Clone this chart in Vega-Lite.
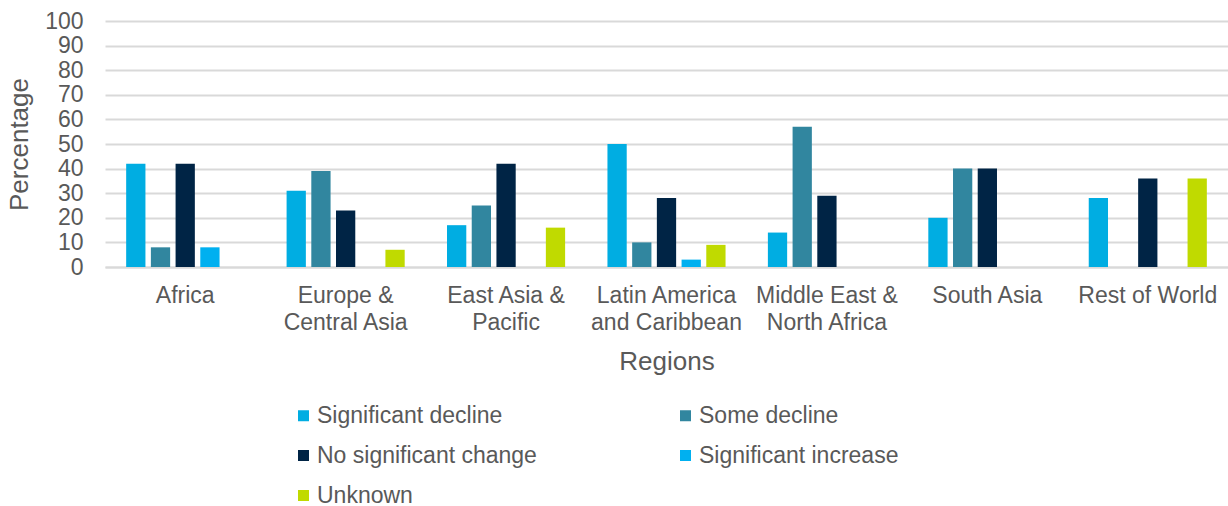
{
  "$schema": "https://vega.github.io/schema/vega-lite/v6.json",
  "width": 1123,
  "height": 246,
  "autosize": {"type": "none"},
  "padding": {"left": 105, "top": 21, "right": 0, "bottom": 239},
  "background": "white",
  "config": {
    "font": "Liberation Sans",
    "view": {"stroke": null},
    "axis": {"labelColor": "#595959", "titleColor": "#595959", "titleFontWeight": "normal"}
  },
  "data": {
    "values": [
      {"region": "Africa", "series": "Significant decline", "value": 42},
      {"region": "Africa", "series": "Some decline", "value": 8},
      {"region": "Africa", "series": "No significant change", "value": 42},
      {"region": "Africa", "series": "Significant increase", "value": 8},
      {"region": "Europe & Central Asia", "series": "Significant decline", "value": 31},
      {"region": "Europe & Central Asia", "series": "Some decline", "value": 39},
      {"region": "Europe & Central Asia", "series": "No significant change", "value": 23},
      {"region": "Europe & Central Asia", "series": "Unknown", "value": 7},
      {"region": "East Asia & Pacific", "series": "Significant decline", "value": 17},
      {"region": "East Asia & Pacific", "series": "Some decline", "value": 25},
      {"region": "East Asia & Pacific", "series": "No significant change", "value": 42},
      {"region": "East Asia & Pacific", "series": "Unknown", "value": 16},
      {"region": "Latin America and Caribbean", "series": "Significant decline", "value": 50},
      {"region": "Latin America and Caribbean", "series": "Some decline", "value": 10},
      {"region": "Latin America and Caribbean", "series": "No significant change", "value": 28},
      {"region": "Latin America and Caribbean", "series": "Significant increase", "value": 3},
      {"region": "Latin America and Caribbean", "series": "Unknown", "value": 9},
      {"region": "Middle East & North Africa", "series": "Significant decline", "value": 14},
      {"region": "Middle East & North Africa", "series": "Some decline", "value": 57},
      {"region": "Middle East & North Africa", "series": "No significant change", "value": 29},
      {"region": "South Asia", "series": "Significant decline", "value": 20},
      {"region": "South Asia", "series": "Some decline", "value": 40},
      {"region": "South Asia", "series": "No significant change", "value": 40},
      {"region": "Rest of World", "series": "Significant decline", "value": 28},
      {"region": "Rest of World", "series": "No significant change", "value": 36},
      {"region": "Rest of World", "series": "Unknown", "value": 36}
    ]
  },
  "mark": {"type": "bar"},
  "encoding": {
    "x": {
      "field": "region",
      "type": "nominal",
      "sort": ["Africa", "Europe & Central Asia", "East Asia & Pacific", "Latin America and Caribbean", "Middle East & North Africa", "South Asia", "Rest of World"],
      "scale": {"paddingInner": 0.23, "paddingOuter": 0.115},
      "axis": {
        "title": "Regions",
        "titleFontSize": 26,
        "titlePadding": 14,
        "labelAngle": 0,
        "labelFontSize": 23,
        "labelLineHeight": 27,
        "labelPadding": 17,
        "labelLimit": 300,
        "ticks": false,
        "domainColor": "#d9d9d9",
        "domainWidth": 2,
        "labelExpr": "datum.label == 'Europe & Central Asia' ? ['Europe &', 'Central Asia'] : datum.label == 'East Asia & Pacific' ? ['East Asia &', 'Pacific'] : datum.label == 'Latin America and Caribbean' ? ['Latin America', 'and Caribbean'] : datum.label == 'Middle East & North Africa' ? ['Middle East &', 'North Africa'] : datum.label"
      }
    },
    "xOffset": {
      "field": "series",
      "type": "nominal",
      "sort": ["Significant decline", "Some decline", "No significant change", "Significant increase", "Unknown"],
      "scale": {"domain": ["Significant decline", "Some decline", "No significant change", "Significant increase", "Unknown"], "paddingInner": 0.22, "paddingOuter": 0.11}
    },
    "y": {
      "field": "value",
      "type": "quantitative",
      "scale": {"domain": [0, 100], "nice": false},
      "axis": {
        "title": "Percentage",
        "titleFontSize": 26,
        "titlePadding": 12,
        "labelFontSize": 23,
        "labelPadding": 22,
        "labelOverlap": false,
        "values": [0, 10, 20, 30, 40, 50, 60, 70, 80, 90, 100],
        "ticks": false,
        "domain": false,
        "gridColor": "#d9d9d9",
        "gridWidth": 2
      }
    },
    "color": {
      "field": "series",
      "type": "nominal",
      "scale": {
        "domain": ["Significant decline", "Some decline", "No significant change", "Significant increase", "Unknown"],
        "range": ["#00ADE2", "#31869F", "#002445", "#00B0F0", "#C0DA00"]
      },
      "legend": {
        "title": null,
        "orient": "none",
        "legendX": 187,
        "legendY": 383,
        "direction": "horizontal",
        "columns": 2,
        "columnPadding": 137,
        "rowPadding": 16,
        "labelFontSize": 23,
        "labelColor": "#595959",
        "labelLimit": 400,
        "symbolType": "square",
        "symbolSize": 121,
        "symbolStrokeWidth": 0,
        "labelOffset": 2
      }
    }
  }
}
